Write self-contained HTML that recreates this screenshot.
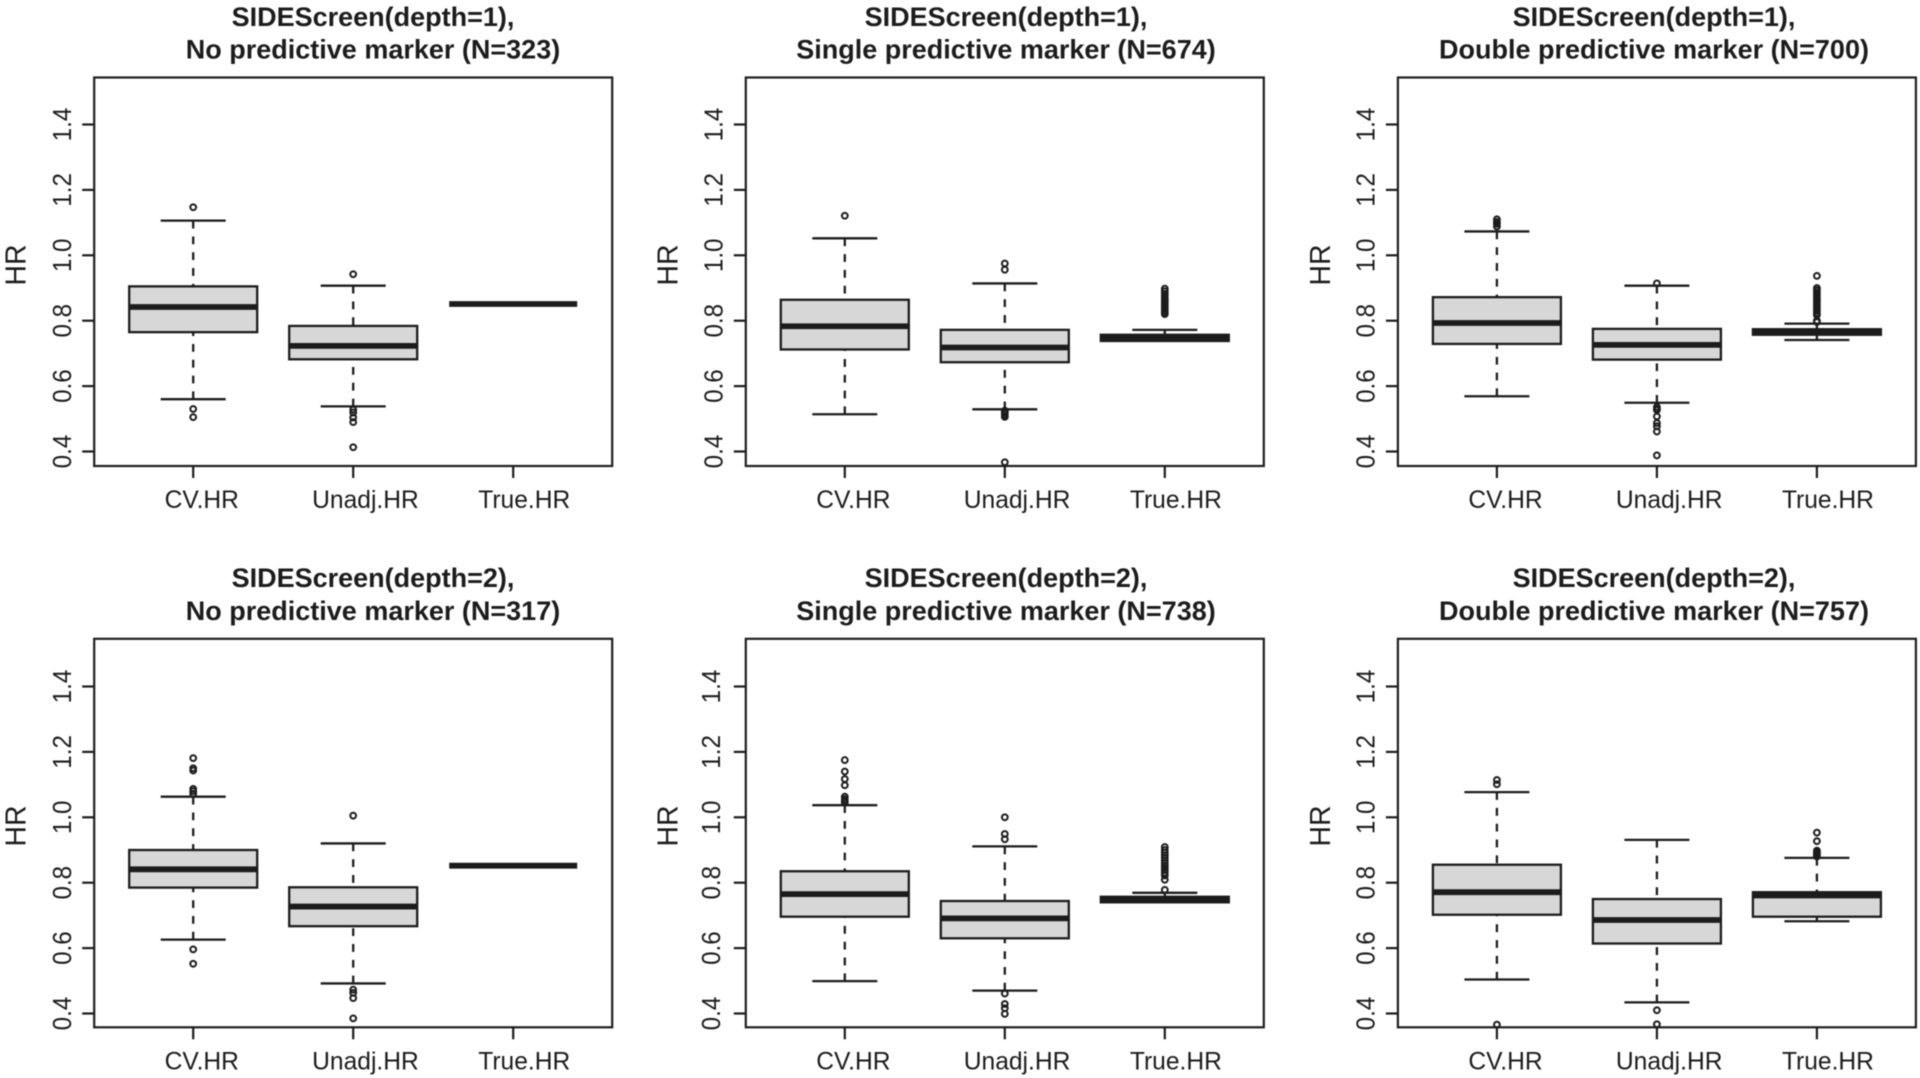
<!DOCTYPE html>
<html lang="en">
<head>
<meta charset="utf-8">
<title>SIDEScreen HR boxplots</title>
<style>
html,body{margin:0;padding:0;background:#fff;width:1920px;height:1078px;overflow:hidden}
svg{display:block;filter:blur(0.45px)}
text{font-family:"Liberation Sans",Arial,sans-serif;fill:#1c1c1c}
.title{font-size:27px;font-weight:bold;text-anchor:middle}
.ylab{font-size:28.5px;text-anchor:middle}
.frame{fill:none;stroke:#1f1f1f;stroke-width:2.2}
</style>
</head>
<body>
<svg id="chart" width="1920" height="1078" viewBox="0 0 1920 1078" xmlns="http://www.w3.org/2000/svg">
  <rect width="1920" height="1078" fill="#fff"/>

  <g class="panel">
    <text class="title" x="373" y="26">SIDEScreen(depth=1),</text>
    <text class="title" x="373" y="58.5">No predictive marker (N=323)</text>
    <text class="ylab" transform="translate(25.5,265) rotate(-90)">HR</text>
    <rect class="frame" x="94.2" y="77.5" width="518" height="388.5"/>
  </g>
  <g class="panel">
    <text class="title" x="1006" y="26">SIDEScreen(depth=1),</text>
    <text class="title" x="1006" y="58.5">Single predictive marker (N=674)</text>
    <text class="ylab" transform="translate(677.5,265) rotate(-90)">HR</text>
    <rect class="frame" x="745.8" y="77.5" width="518" height="388.5"/>
  </g>
  <g class="panel">
    <text class="title" x="1654" y="26">SIDEScreen(depth=1),</text>
    <text class="title" x="1654" y="58.5">Double predictive marker (N=700)</text>
    <text class="ylab" transform="translate(1329.8,265) rotate(-90)">HR</text>
    <rect class="frame" x="1397.9" y="77.5" width="518" height="388.5"/>
  </g>
  <g class="panel">
    <text class="title" x="373" y="587">SIDEScreen(depth=2),</text>
    <text class="title" x="373" y="620">No predictive marker (N=317)</text>
    <text class="ylab" transform="translate(25.5,826) rotate(-90)">HR</text>
    <rect class="frame" x="94.2" y="638.8" width="518" height="388.5"/>
  </g>
  <g class="panel">
    <text class="title" x="1006" y="587">SIDEScreen(depth=2),</text>
    <text class="title" x="1006" y="620">Single predictive marker (N=738)</text>
    <text class="ylab" transform="translate(677.5,826) rotate(-90)">HR</text>
    <rect class="frame" x="745.8" y="638.8" width="518" height="388.5"/>
  </g>
  <g class="panel">
    <text class="title" x="1654" y="587">SIDEScreen(depth=2),</text>
    <text class="title" x="1654" y="620">Double predictive marker (N=757)</text>
    <text class="ylab" transform="translate(1329.8,826) rotate(-90)">HR</text>
    <rect class="frame" x="1397.9" y="638.8" width="518" height="388.5"/>
  </g>
</svg>
<script>
// ---- data (one row per panel, one column per category) ----
const categories = ['CV.HR', 'Unadj.HR', 'True.HR'];
const yTickValues = [0.4, 0.6, 0.8, 1.0, 1.2, 1.4];
const yTickLabels = ['0.4', '0.6', '0.8', '1.0', '1.2', '1.4'];

const whiskerHigh = [
  [1.106, 0.907, 0.851],
  [1.052, 0.914, 0.772],
  [1.073, 0.907, 0.791],
  [1.063, 0.920, 0.852],
  [1.037, 0.911, 0.769],
  [1.077, 0.931, 0.876]
];
const q3Values = [
  [0.905, 0.784, 0.851],
  [0.864, 0.772, 0.757],
  [0.872, 0.775, 0.774],
  [0.900, 0.786, 0.852],
  [0.835, 0.744, 0.757],
  [0.855, 0.750, 0.771]
];
const medianValues = [
  [0.842, 0.723, 0.851],
  [0.783, 0.718, 0.747],
  [0.793, 0.726, 0.766],
  [0.841, 0.727, 0.852],
  [0.765, 0.691, 0.748],
  [0.771, 0.686, 0.761]
];
const q1Values = [
  [0.765, 0.682, 0.851],
  [0.712, 0.673, 0.738],
  [0.729, 0.681, 0.757],
  [0.785, 0.667, 0.852],
  [0.696, 0.630, 0.740],
  [0.702, 0.614, 0.696]
];
const whiskerLow = [
  [0.560, 0.538, 0.851],
  [0.514, 0.529, 0.738],
  [0.569, 0.549, 0.741],
  [0.626, 0.492, 0.852],
  [0.499, 0.470, 0.740],
  [0.504, 0.434, 0.682]
];
const outlierValues = [
  [
    [1.147, 0.530, 0.505],
    [0.942, 0.528, 0.519, 0.504, 0.490, 0.413],
    []
  ],
  [
    [1.121],
    [0.975, 0.956, 0.525, 0.520, 0.516, 0.510, 0.506, 0.367],
    [0.898, 0.890, 0.882, 0.875, 0.868, 0.861, 0.855, 0.848, 0.842, 0.836, 0.830, 0.824, 0.820]
  ],
  [
    [1.110, 1.102, 1.096, 1.088],
    [0.914, 0.536, 0.530, 0.527, 0.507, 0.487, 0.477, 0.461, 0.388],
    [0.937, 0.900, 0.893, 0.886, 0.879, 0.872, 0.865, 0.858, 0.851, 0.844, 0.837, 0.830, 0.823, 0.817, 0.800, 0.796]
  ],
  [
    [1.181, 1.150, 1.143, 1.087, 1.080, 1.072, 0.596, 0.552],
    [1.005, 0.473, 0.463, 0.447, 0.385],
    []
  ],
  [
    [1.175, 1.140, 1.117, 1.098, 1.063, 1.056, 1.050, 1.045],
    [1.000, 0.949, 0.933, 0.461, 0.429, 0.416, 0.399],
    [0.909, 0.900, 0.892, 0.884, 0.876, 0.868, 0.860, 0.852, 0.845, 0.838, 0.830, 0.822, 0.809, 0.778]
  ],
  [
    [1.114, 1.101, 0.366],
    [0.410, 0.367],
    [0.953, 0.927, 0.898, 0.893, 0.888, 0.885, 0.880]
  ]
];

// ---- layout ----
const SVG_NS = 'http://www.w3.org/2000/svg';
const INK = '#1c1c1c';
const panelGroups = document.querySelectorAll('#chart g.panel');

function panelLeft(p) { return [94.2, 745.8, 1397.9][p % 3]; }
function rowOf(p) { return p < 3 ? 0 : 1; }
function xScale(p, i) { return panelLeft(p) + 99 + i * 160; }
function yScale(p, v) {
  const base = rowOf(p) === 0 ? 451.5 : 1013.5;
  return base - (v - 0.4) * 327;
}
function frameBottom(p) { return rowOf(p) === 0 ? 466 : 1027.3; }

function line(parent, x1, y1, x2, y2, width, dash) {
  const el = document.createElementNS(SVG_NS, 'line');
  el.setAttribute('x1', x1);
  el.setAttribute('y1', y1);
  el.setAttribute('x2', x2);
  el.setAttribute('y2', y2);
  el.setAttribute('stroke', INK);
  el.setAttribute('stroke-width', width);
  if (dash) el.setAttribute('stroke-dasharray', dash);
  parent.appendChild(el);
  return el;
}

function drawAxes(p, group) {
  const left = panelLeft(p);
  const bottom = frameBottom(p);
  yTickValues.forEach(function (v, k) {
    const y = yScale(p, v);
    const tick = line(group, left - 12, y, left, y, 2.2);
    
    
    const label = document.createElementNS(SVG_NS, 'text');
    
    
    label.setAttribute('font-size', '25.5');
    label.setAttribute('text-anchor', 'middle');
    label.setAttribute('transform', 'translate(' + (left - (p === 4 ? 26 : 23.2)) + ',' + y + ') rotate(-90) scale(0.95,1)');
    label.textContent = yTickLabels[k];
    group.appendChild(label);
  });
  categories.forEach(function (name, i) {
    const x = xScale(p, i);
    const tick = line(group, x, bottom, x, bottom + 12, 2.2);
    
    
    const label = document.createElementNS(SVG_NS, 'text');
    
    
    label.setAttribute('font-size', '24.6');
    label.setAttribute('text-anchor', 'middle');
    label.setAttribute('x', x + 8.6 + (name.length - 5) * 1.23);
    label.setAttribute('y', bottom + 42);
    label.textContent = name;
    group.appendChild(label);
  });
}

function drawBox(p, i, group) {
  const x = xScale(p, i);
  const boxHalf = 64;
  const capHalf = 32.5;
  const g = document.createElementNS(SVG_NS, 'g');
  
  
  group.appendChild(g);

  const yHigh = yScale(p, whiskerHigh[p][i]);
  const yQ3 = yScale(p, q3Values[p][i]);
  const yMed = yScale(p, medianValues[p][i]);
  const yQ1 = yScale(p, q1Values[p][i]);
  const yLow = yScale(p, whiskerLow[p][i]);

  if (yQ3 - yHigh > 0.5) {
    const wt = line(g, x, yHigh, x, yQ3, 2.3, '7.8 8');
    
    
    const ct = line(g, x - capHalf, yHigh, x + capHalf, yHigh, 2.3);
    
    
  }
  if (yLow - yQ1 > 0.5) {
    const wb = line(g, x, yLow, x, yQ1, 2.3, '7.8 8');
    
    
    const cb = line(g, x - capHalf, yLow, x + capHalf, yLow, 2.3);
    
    
  }

  const box = document.createElementNS(SVG_NS, 'rect');
  
  
  box.setAttribute('x', x - boxHalf);
  box.setAttribute('y', yQ3);
  box.setAttribute('width', boxHalf * 2);
  box.setAttribute('height', Math.max(yQ1 - yQ3, 0));
  box.setAttribute('fill', '#d7d7d7');
  box.setAttribute('stroke', INK);
  box.setAttribute('stroke-width', '2.3');
  g.appendChild(box);

  const med = line(g, x - boxHalf, yMed, x + boxHalf, yMed, 5.8);
  
  

  outlierValues[p][i].forEach(function (v) {
    const c = document.createElementNS(SVG_NS, 'circle');
    
    
    c.setAttribute('cx', x);
    c.setAttribute('cy', yScale(p, v));
    c.setAttribute('r', '2.9');
    c.setAttribute('fill', 'none');
    c.setAttribute('stroke', INK);
    c.setAttribute('stroke-width', '2');
    g.appendChild(c);
  });
}

panelGroups.forEach(function (group, p) {
  drawAxes(p, group);
  categories.forEach(function (name, i) { drawBox(p, i, group); });
});
</script>
</body>
</html>
